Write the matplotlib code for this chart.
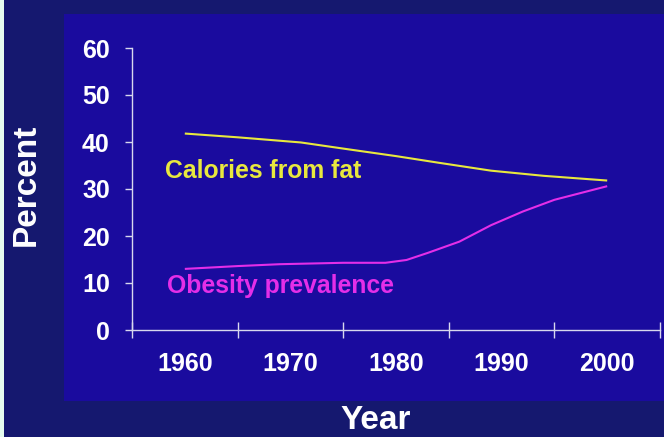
import matplotlib
matplotlib.use("Agg")
import matplotlib.pyplot as plt
from matplotlib.patches import Rectangle

# Data
fat_years = [1960, 1965, 1971, 1975, 1980, 1984, 1989, 1994, 2000]
fat_pct = [41.8, 41.0, 39.9, 38.6, 37.0, 35.6, 33.9, 32.8, 31.8]
obesity_years = [1960, 1965, 1969, 1975, 1979, 1981, 1983, 1986, 1989, 1992, 1995, 2000]
obesity_pct = [13.0, 13.6, 14.0, 14.3, 14.3, 14.9, 16.4, 18.8, 22.3, 25.2, 27.7, 30.6]
year_labels = ["1960", "1970", "1980", "1990", "2000"]
year_pos = [1960, 1970, 1980, 1990, 2000]
y_ticks = [0, 10, 20, 30, 40, 50, 60]

OUTER = "#15186F"
PANEL = "#1A0B9E"
AXIS = "#D8D8EE"
YELLOW = "#E8E83E"
MAGENTA = "#E42EE8"
FONT = "Liberation Sans"

fig = plt.figure(figsize=(6.64, 4.37), dpi=100)
fig.patch.set_facecolor(OUTER)
W, H = 664, 437
# light strip on the left edge
fig.patches.append(Rectangle((0, 0), 4 / W, 1, transform=fig.transFigure,
                             facecolor="#E6FCEE", edgecolor="none", zorder=0))
# inner brighter panel
fig.patches.append(Rectangle((64 / W, (H - 401) / H), (W - 64) / W, (401 - 14) / H,
                             transform=fig.transFigure, facecolor=PANEL,
                             edgecolor="none", zorder=0))

ax = fig.add_axes([132 / W, (H - 330) / H, (660 - 132) / W, (330 - 48) / H])
ax.set_zorder(3)
ax.set_facecolor("none")

ax.plot(fat_years, fat_pct, color=YELLOW, lw=1.5, solid_capstyle="butt",
        solid_joinstyle="round")
ax.plot(obesity_years, obesity_pct, color=MAGENTA, lw=1.5, solid_capstyle="butt",
        solid_joinstyle="round")

ax.text(1958.1, 33.8, "Calories from fat", color=YELLOW, fontsize=17.8,
        fontweight="bold", family=FONT, va="center", ha="left")
ax.text(1958.3, 9.4, "Obesity prevalence", color=MAGENTA, fontsize=17.8,
        fontweight="bold", family=FONT, va="center", ha="left")

ax.set_xlim(1955, 2005)
ax.set_ylim(0, 60)
for s in ["top", "right"]:
    ax.spines[s].set_visible(False)
for s in ["left", "bottom"]:
    ax.spines[s].set_color(AXIS)
    ax.spines[s].set_linewidth(1.0)

ax.set_yticks(y_ticks)
ax.set_yticklabels([str(v) for v in y_ticks])
ax.tick_params(axis="y", direction="out", length=5, width=1.0, color=AXIS,
               pad=11, labelsize=18, labelcolor="white")
ax.set_xticks([1955, 1965, 1975, 1985, 1995, 2005])
ax.set_xticklabels([])
ax.tick_params(axis="x", which="major", direction="inout", length=11, width=1.0,
               color=AXIS)
ax.set_xticks(year_pos, minor=True)
ax.set_xticklabels(year_labels, minor=True)
ax.tick_params(axis="x", which="minor", length=0, pad=16, labelsize=18,
               labelcolor="white")
for lab in ax.get_xticklabels(minor=True) + ax.get_yticklabels():
    lab.set_fontweight("bold")
    lab.set_family(FONT)

fig.text(26 / W, 1 - 185 / H, "Percent", rotation=90, color="white",
         fontsize=24, fontweight="bold", family=FONT, ha="center", va="center")
fig.text(376 / W, 1 / H, "Year", color="white", fontsize=24,
         fontweight="bold", family=FONT, ha="center", va="bottom")

fig.savefig("out.png", dpi=100, facecolor=OUTER)
